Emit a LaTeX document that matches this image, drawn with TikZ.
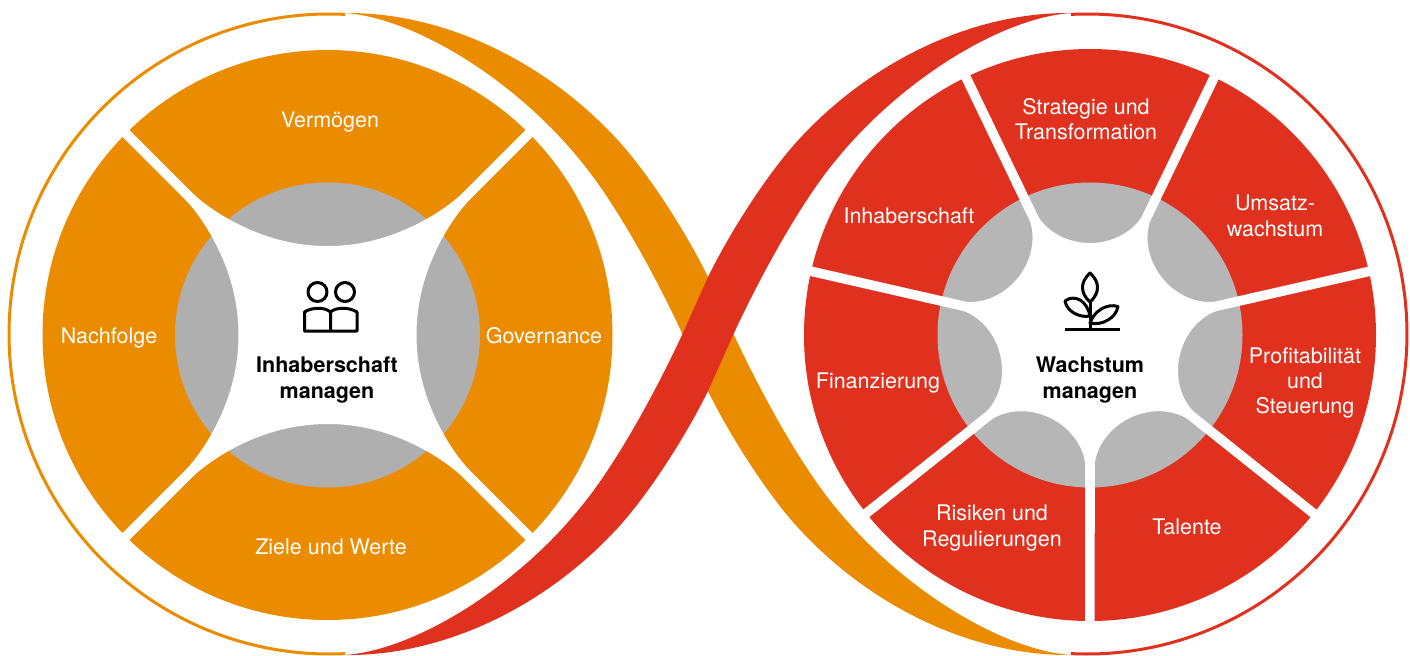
\documentclass[tikz,border=0pt]{standalone}
\usepackage{fontspec}
\setmainfont{TeX Gyre Heros}
\usetikzlibrary{calc}
\definecolor{ownerorange}{HTML}{EB8C00}
\definecolor{growthred}{HTML}{E0301E}
\definecolor{ownergray}{HTML}{AFAFAF}
\definecolor{growthgray}{HTML}{B6B6B6}
\tikzset{
    seglabel/.append style={align=center,text=white,font=\fontsize{10.75}{12.7}\selectfont},
    corelabel/.append style={align=center,text=black,font=\fontsize{10.75}{12.9}\selectfont\bfseries},
    gapline/.append style={draw=white,line width=4.8pt},
    icon/.append style={draw=black,line width=1.5pt,line join=round},
    ring/.append style={line width=1.5pt},
}
% one half of the loop: thin ring and the ribbon that leaves it
\newcommand{\LoopHalf}[1]{
    \draw[ring,draw=#1] (-87.1:320) ++(329,334) arc[start angle=-87.1,end angle=-272.9,radius=320];
    \fill[#1] (345,13) .. controls (440,12) and (540,58) .. (613,135)
              .. controls (645,168) and (685,230) .. (708,277) -- (734,335)
              .. controls (761,393) and (801,466) .. (836,508)
              .. controls (901,588) and (1001,650) .. (1071,655)
              .. controls (976,656) and (876,610) .. (803,533)
              .. controls (771,500) and (731,438) .. (708,391) -- (682,333)
              .. controls (655,275) and (615,202) .. (580,160)
              .. controls (515,80) and (415,18) .. (345,13) -- cycle;
}
\begin{document}
\begin{tikzpicture}[x=0.5pt,y=-0.5pt]
    \useasboundingbox (0,0) rectangle (1410,655);

    \LoopHalf{ownerorange}
    \begin{scope}[shift={(1416,0)},xscale=-1]
        \LoopHalf{growthred}
    \end{scope}

    % left wheel
    \begin{scope}[shift={(327.5,335)}]
        \fill[ownerorange] (0,0) circle[radius=285];
        \fill[ownergray]   (0,0) circle[radius=152.5];
        \foreach \k in {0,...,3} {
            \fill[white,rotate=\k*90] (0,0) -- (-150,-150) -- (-142.5,-149)
                .. controls (-130,-136) and (-115,-125) .. (-99,-116)
                .. controls (-66,-97.5) and (-33,-89) .. (0,-89)
                .. controls (33,-89) and (66,-97.5) .. (99,-116)
                .. controls (115,-125) and (130,-136) .. (142.5,-149)
                -- (150,-150) -- cycle;
            \draw[gapline,rotate=\k*90] (0,0) -- (-212,-212);
        }
    \end{scope}

    % right wheel
    \begin{scope}[shift={(1090,335)}]
        \fill[growthred]  (0,0) circle[radius=286];
        \fill[growthgray] (0,0) circle[radius=152.5];
        \foreach \k in {0,...,6} {
            \fill[white,rotate=\k*51.4286] (0,0) -- (-73.8,-153.2) -- (-69.5,-155.3)
                .. controls (-63.4,-142.7) and (-60.5,-129) .. (-49.5,-115)
                .. controls (-38,-100) and (-19,-92) .. (0,-92)
                .. controls (19,-92) and (38,-100) .. (49.5,-115)
                .. controls (60.5,-129) and (63.4,-142.7) .. (69.5,-155.3)
                -- (73.8,-153.2) -- cycle;
            \draw[gapline,rotate=\k*51.4286] (0,0) -- (-128,-266);
        }
    \end{scope}

    \node[seglabel] (vermoegen)  at (330,122) {Vermögen};
    \node[seglabel] (nachfolge)  at (109,338) {Nachfolge};
    \node[seglabel] (governance) at (544,336) {Governance};
    \node[seglabel] (ziele)      at (331,547) {Ziele und Werte};
    \node[corelabel] (inhabercore) at (327,380) {Inhaberschaft\\managen};

    \node[seglabel] (strategie)  at (1086,119) {Strategie und\\Transformation};
    \node[seglabel] (umsatz)     at (1275,216) {Umsatz-\\wachstum};
    \node[seglabel] (inhaber)    at (909,216)  {Inhaberschaft};
    \node[seglabel] (finanz)     at (878,383)  {Finanzierung};
    \node[seglabel] (profit)     at (1305,383) {Profitabilität\\und\\Steuerung};
    \node[seglabel] (risiken)    at (992,528)  {Risiken und\\Regulierungen};
    \node[seglabel] (talente)    at (1187,527) {Talente};
    \node[corelabel] (wachstumcore) at (1090,380) {Wachstum\\managen};

    % people with book
    \draw[icon] (317.5,292) circle[radius=9.5] (345,292) circle[radius=9.5];
    \draw[icon] (304.5,331) -- (304.5,312) .. controls (312,307) and (325,307) .. (330.5,312)
                .. controls (336,307) and (349,307) .. (357,312) -- (357,331) -- cycle
                (330.5,312) -- (330.5,331);

    % plant
    \draw[icon] (1064.5,329.5) -- (1119.5,329.5) (1090,302) -- (1090,329.5);
    \draw[icon] (1090,273) .. controls (1080,282) and (1080,293) .. (1090,302)
                .. controls (1100,293) and (1100,282) .. cycle;
    \draw[icon] (1065,301) .. controls (1074,294) and (1087,300) .. (1090,316)
                .. controls (1080,318) and (1067,312) .. cycle;
    \draw[icon] (1090,323) .. controls (1094,311) and (1107,303) .. (1118,306.5)
                .. controls (1116,318) and (1102,326) .. cycle;
\end{tikzpicture}
\end{document}
